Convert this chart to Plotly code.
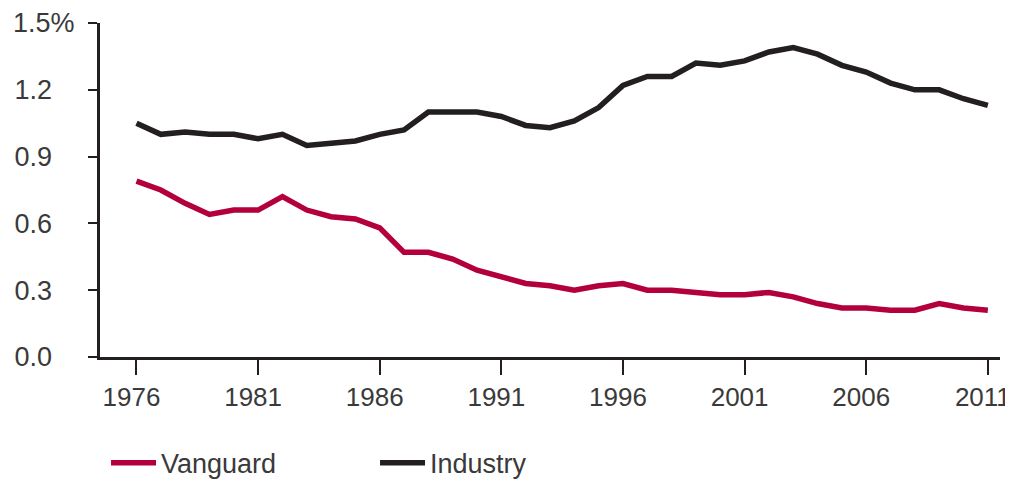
import plotly.graph_objects as go

years = list(range(1976, 2012))

vanguard = [0.79, 0.75, 0.69, 0.64, 0.66, 0.66, 0.72, 0.66, 0.63, 0.62, 0.58,
            0.47, 0.47, 0.44, 0.39, 0.36, 0.33, 0.32, 0.30, 0.32, 0.33, 0.30,
            0.30, 0.29, 0.28, 0.28, 0.29, 0.27, 0.24, 0.22, 0.22, 0.21, 0.21,
            0.24, 0.22, 0.21]

industry = [1.05, 1.00, 1.01, 1.00, 1.00, 0.98, 1.00, 0.95, 0.96, 0.97, 1.00,
            1.02, 1.10, 1.10, 1.10, 1.08, 1.04, 1.03, 1.06, 1.12, 1.22, 1.26,
            1.26, 1.32, 1.31, 1.33, 1.37, 1.39, 1.36, 1.31, 1.28, 1.23, 1.20,
            1.20, 1.16, 1.13]

x_tickvals = [1976, 1981, 1986, 1991, 1996, 2001, 2006, 2011]
y_tickvals = [0.0, 0.3, 0.6, 0.9, 1.2, 1.5]
y_ticktext = ["0.0", "0.3", "0.6", "0.9", "1.2", "1.5%"]

PAD = "\u00a0\u00a0\u00a0"
y_ticktext_padded = [t if t.endswith("%") else t + PAD for t in y_ticktext]

RED = "#b3003b"
BLACK = "#231f20"
TEXT = "#3a3a3a"
FONT = "Liberation Sans, Arial, sans-serif"

fig = go.Figure()
fig.add_trace(go.Scatter(x=years, y=vanguard, mode="lines", name="Vanguard",
                         line=dict(color=RED, width=5.5)))
fig.add_trace(go.Scatter(x=years, y=industry, mode="lines", name="Industry",
                         line=dict(color=BLACK, width=5.5)))

# the page body adds an 8px offset, so the figure is 8px smaller than the window
fig.update_layout(
    width=1005, height=473,
    margin=dict(l=92, r=13, t=15, b=124, autoexpand=False),
    paper_bgcolor="white", plot_bgcolor="white",
    font=dict(family=FONT, size=27, color=TEXT),
    showlegend=True,
    legend=dict(orientation="h", x=0.0067, xanchor="left", y=-0.318, yanchor="middle",
                font=dict(size=27, color=TEXT), itemwidth=45,
                entrywidth=209, entrywidthmode="pixels",
                bgcolor="rgba(0,0,0,0)", borderwidth=0),
    xaxis=dict(range=[1974.5, 2011.5], tickvals=x_tickvals,
               ticktext=[str(v) for v in x_tickvals],
               showgrid=False, zeroline=False, showline=True,
               linecolor=BLACK, linewidth=3, ticks="outside", ticklen=15,
               tickwidth=2, tickcolor=BLACK, tickfont=dict(size=26, color=TEXT),
               ticklabelshift=-5, ticklabeloverflow="allow"),
    yaxis=dict(range=[0, 1.5], tickvals=y_tickvals, ticktext=y_ticktext_padded,
               showgrid=False, zeroline=False, showline=True,
               linecolor=BLACK, linewidth=3, ticks="outside", ticklen=9,
               tickwidth=2, tickcolor=BLACK, tickfont=dict(size=27, color=TEXT),
               ticklabelstandoff=8, ticklabeloverflow="allow"),
)

fig.write_html("out.html")
